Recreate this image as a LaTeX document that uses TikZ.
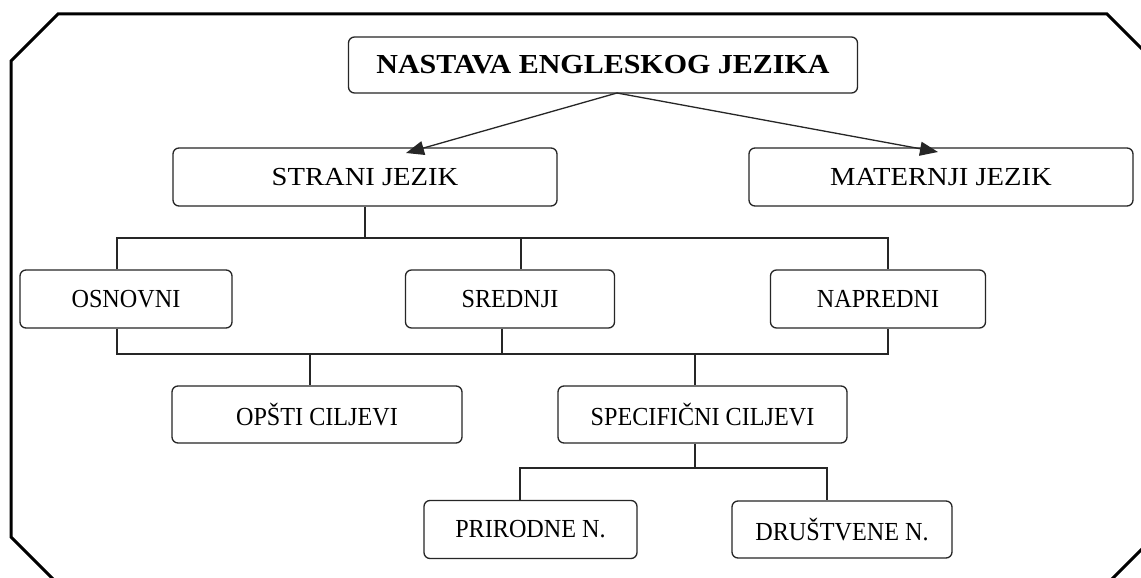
\documentclass[tikz,border=0pt]{standalone}
\usepackage{fontspec}
\setmainfont{Liberation Serif}
\usetikzlibrary{arrows.meta,calc}
\tikzset{
  box/.style={draw=black!85, line width=1.3pt, rounded corners=6pt, inner sep=0pt,
    font=\fontsize{26}{30}\selectfont, align=center},
  conn/.style={draw=black!85, line width=1.3pt},
  arr/.style={conn, -{Triangle[length=18pt,width=14pt]}},
  frame/.style={draw=black, line width=3pt, line join=miter}
}
\begin{document}
\begin{tikzpicture}[x=1pt,y=-1pt]
\useasboundingbox (0,0) rectangle (1141,578);
\clip (0,0) rectangle (1141,578);
\fill[white] (0,0) rectangle (1141,578);
% outer frame
\draw[frame] (11,61) -- (58,14) -- (1107,14) -- (1154,61) -- (1154,537) -- (1107,584) -- (58,584) -- (11,537) -- cycle;
% nodes
\node[box, minimum width=509pt, minimum height=56pt, font=\fontsize{27.5}{30}\selectfont\bfseries\addfontfeatures{FakeStretch=1.09}] (top) at (603,65) {NASTAVA ENGLESKOG JEZIKA};
\node[box, minimum width=384pt, minimum height=58pt, font=\fontsize{26}{30}\selectfont\addfontfeatures{FakeStretch=1.1}] (strani) at (365,177) {STRANI JEZIK};
\node[box, minimum width=384pt, minimum height=58pt, font=\fontsize{26}{30}\selectfont\addfontfeatures{FakeStretch=1.1}] (mat) at (941,177) {MATERNJI JEZIK};
\node[box, minimum width=212pt, minimum height=58pt, font=\fontsize{26}{30}\selectfont\addfontfeatures{FakeStretch=0.93}] (osn) at (126,299) {OSNOVNI};
\node[box, minimum width=209pt, minimum height=58pt, font=\fontsize{26}{30}\selectfont\addfontfeatures{FakeStretch=0.93}] (sred) at (510,299) {SREDNJI};
\node[box, minimum width=215pt, minimum height=58pt, font=\fontsize{26}{30}\selectfont\addfontfeatures{FakeStretch=0.93}] (napr) at (878,299) {NAPREDNI};
\node[box, minimum width=290pt, minimum height=57pt, font=\fontsize{26}{30}\selectfont\addfontfeatures{FakeStretch=0.93}] (opsti) at (317,414.5) {OPŠTI CILJEVI};
\node[box, minimum width=289pt, minimum height=57pt, font=\fontsize{26}{30}\selectfont\addfontfeatures{FakeStretch=0.93}] (spec) at (702.5,414.5) {SPECIFIČNI CILJEVI};
\node[box, minimum width=213pt, minimum height=58pt, font=\fontsize{26}{30}\selectfont\addfontfeatures{FakeStretch=0.93}] (prir) at (530.5,529.5) {PRIRODNE N.};
\node[box, minimum width=220pt, minimum height=57pt, font=\fontsize{26}{30}\selectfont\addfontfeatures{FakeStretch=0.93}] (drus) at (842,529.5) {DRUŠTVENE N.};
% arrow end points
\coordinate (src) at (617,93);
\coordinate (ta) at (406,153);
\coordinate (tb) at (938,152);
\draw[arr] (src) -- (ta);
\draw[arr] (src) -- (tb);
% first bus
\coordinate (b1) at (365,238);
\coordinate (b1l) at (117,238);
\coordinate (b1m) at (521,238);
\coordinate (b1r) at (888,238);
\draw[conn] (strani.south) -- (b1);
\draw[conn] (b1l |- osn.north) -- (b1l) -- (b1r) -- (b1r |- napr.north);
\draw[conn] (b1m) -- (b1m |- sred.north);
% second bus
\coordinate (b2l) at (117,354);
\coordinate (b2m) at (502,354);
\coordinate (b2r) at (888,354);
\coordinate (b2a) at (310,354);
\coordinate (b2b) at (695,354);
\draw[conn] (b2l |- osn.south) -- (b2l) -- (b2r) -- (b2r |- napr.south);
\draw[conn] (b2m |- sred.south) -- (b2m);
\draw[conn] (b2a) -- (b2a |- opsti.north);
\draw[conn] (b2b) -- (b2b |- spec.north);
% third bus
\coordinate (b3) at (695,468);
\coordinate (b3l) at (520,468);
\coordinate (b3r) at (827,468);
\draw[conn] (b3 |- spec.south) -- (b3);
\draw[conn] (b3l |- prir.north) -- (b3l) -- (b3r) -- (b3r |- drus.north);
\end{tikzpicture}
\end{document}
